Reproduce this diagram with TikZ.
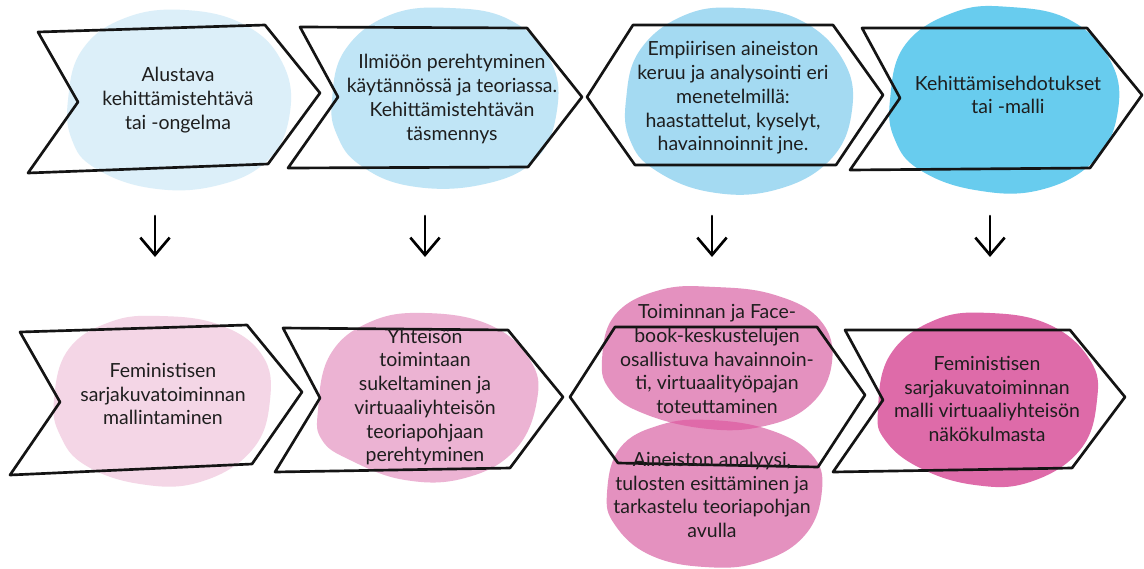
\documentclass[tikz,border=0pt]{standalone}
\usepackage{fontspec}
\setmainfont{Lato}
\usetikzlibrary{arrows.meta}
\definecolor{bA}{RGB}{220,239,249}
\definecolor{bB}{RGB}{192,229,246}
\definecolor{bC}{RGB}{164,218,242}
\definecolor{bD}{RGB}{104,204,238}
\definecolor{pA}{RGB}{244,214,230}
\definecolor{pB}{RGB}{236,179,211}
\definecolor{pC}{RGB}{228,145,191}
\definecolor{pCd}{RGB}{223,106,169}
\definecolor{pD}{RGB}{222,107,169}
\definecolor{txt}{RGB}{30,30,30}
\begin{document}
\begin{tikzpicture}[x=0.75pt,y=-0.75pt,
  chev/.style={draw=black!92, line width=2pt, line join=round},
  lbl/.style={align=center, font=\fontsize{14.6}{17.8}\selectfont, text=txt, inner sep=0pt},
  arr/.style={line width=2pt, line cap=round, -{Straight Barb[length=13pt,width=22pt,line width=2pt]}},
  blob/.style={smooth cycle, tension=0.7}]
\useasboundingbox (0,0) rectangle (1144,568);
\fill[white] (0,0) rectangle (1144,568);
% blobs top
\fill[bA] plot[blob] coordinates {(68,100) (82,50) (125,18) (185,10) (245,25) (282,62) (290,112) (268,160) (215,186) (150,188) (95,168) (72,140)};
\fill[bB] plot[blob] coordinates {(332,100) (345,50) (390,15) (450,8) (510,20) (550,60) (557,110) (535,160) (480,185) (410,186) (360,165) (337,135)};
\fill[bC] plot[blob] coordinates {(626,100) (640,50) (685,15) (740,8) (800,20) (843,60) (852,110) (830,160) (775,190) (710,192) (655,170) (630,140)};
\fill[bD] plot[blob] coordinates {(890,100) (905,45) (955,12) (1010,7) (1070,20) (1110,60) (1118,110) (1095,160) (1040,190) (975,190) (920,170) (895,140)};
% blobs bottom
\fill[pA] plot[blob] coordinates {(54,400) (68,350) (110,322) (160,316) (220,325) (262,355) (270,400) (252,450) (200,482) (140,484) (85,465) (60,435)};
\fill[pB] plot[blob] coordinates {(318,410) (330,355) (370,322) (425,313) (490,325) (530,360) (537,400) (515,450) (465,478) (405,480) (350,460) (322,440)};
\fill[pC] plot[blob] coordinates {(602,360) (615,315) (660,290) (715,287) (775,295) (820,320) (832,362) (810,405) (760,427) (700,428) (640,412) (610,390)};
\fill[pC] plot[blob] coordinates {(607,493) (620,448) (660,425) (710,420) (770,430) (812,455) (822,490) (805,535) (760,562) (705,567) (650,555) (615,525)};
\begin{scope}
\clip plot[blob] coordinates {(602,360) (615,315) (660,290) (715,287) (775,295) (820,320) (832,362) (810,405) (760,427) (700,428) (640,412) (610,390)};
\fill[pCd] plot[blob] coordinates {(607,493) (620,448) (660,425) (710,420) (770,430) (812,455) (822,490) (805,535) (760,562) (705,567) (650,555) (615,525)};
\end{scope}
\fill[pD] plot[blob] coordinates {(878,410) (890,355) (935,320) (990,313) (1050,325) (1090,360) (1097,400) (1080,450) (1030,482) (975,485) (920,468) (885,440)};
% chevrons top
\draw[chev] (38,32) -- (265,25) -- (320,93) -- (268,164) -- (28,173) -- (78,102) -- cycle;
\draw[chev] (300,27) -- (527,28) -- (582,97) -- (528,167) -- (288,168) -- (338,97) -- cycle;
\draw[chev] (633,25) -- (833,25) -- (883,95) -- (836,165) -- (635,165) -- (587,97) -- cycle;
\draw[chev] (862,28) -- (1087,28) -- (1142,95) -- (1090,168) -- (850,170) -- (900,98) -- cycle;
% chevrons bottom
\draw[chev] (20,332) -- (247,325) -- (302,392) -- (252,464) -- (10,475) -- (60,402) -- cycle;
\draw[chev] (283,328) -- (508,330) -- (563,397) -- (510,468) -- (275,472) -- (320,398) -- cycle;
\draw[chev] (615,327) -- (817,327) -- (865,395) -- (818,467) -- (618,463) -- (570,397) -- cycle;
\draw[chev] (845,330) -- (1070,330) -- (1125,397) -- (1072,468) -- (833,472) -- (883,400) -- cycle;
% texts
\node[lbl] (t1) at (178,100) {Alustava\\kehittämistehtävä\\tai -ongelma};
\node[lbl] (t2) at (452,99) {Ilmiöön perehtyminen\\käytännössä ja teoriassa.\\Kehittämistehtävän\\täsmennys};
\node[lbl] (t3) at (733,98) {Empiirisen aineiston\\keruu ja analysointi eri\\menetelmillä:\\haastattelut, kyselyt,\\havainnoinnit jne.};
\node[lbl] (t4) at (1008,95) {Kehittämisehdotukset\\tai -malli};
\node[lbl] (b1) at (163,394) {Feministisen\\sarjakuvatoiminnan\\mallintaminen};
\node[lbl] (b2) at (425,397) {Yhteisön\\toimintaan\\sukeltaminen ja\\virtuaaliyhteisön\\teoriapohjaan\\perehtyminen};
\node[lbl] (b3) at (717,359) {Toiminnan ja Face-\\book-keskustelujen\\osallistuva havainnoin-\\ti, virtuaalityöpajan\\toteuttaminen};
\node[lbl] (b4) at (712,495) {Aineiston analyysi,\\tulosten esittäminen ja\\tarkastelu teoriapohjan\\avulla};
\node[lbl] (b5) at (987,399) {Feministisen\\sarjakuvatoiminnan\\malli virtuaaliyhteisön\\näkökulmasta};
% arrows
\coordinate (a1s) at (155,216); \coordinate (a1e) at (155,257);
\coordinate (a2s) at (425,216); \coordinate (a2e) at (425,257);
\coordinate (a3s) at (712,216); \coordinate (a3e) at (712,257);
\coordinate (a4s) at (990,216); \coordinate (a4e) at (990,257);
\draw[arr] (a1s) -- (a1e);
\draw[arr] (a2s) -- (a2e);
\draw[arr] (a3s) -- (a3e);
\draw[arr] (a4s) -- (a4e);
\end{tikzpicture}
\end{document}
